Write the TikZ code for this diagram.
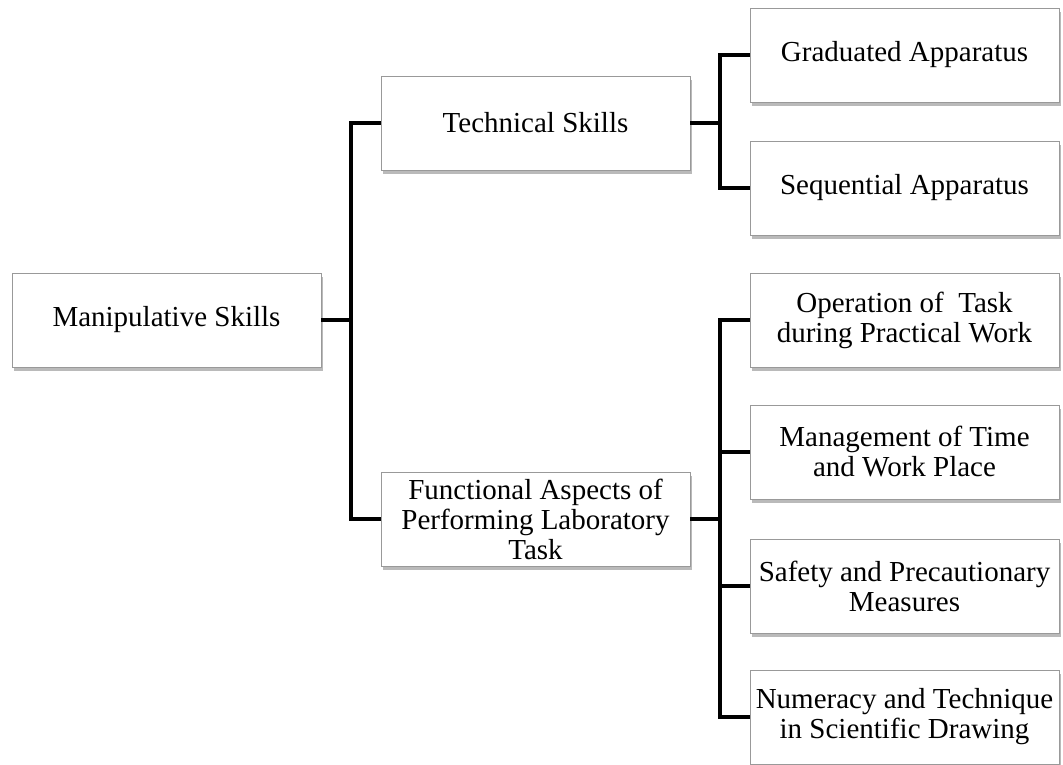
\documentclass[tikz,border=0pt]{standalone}
\usepackage{fontspec}
\setmainfont{Liberation Serif}
\newfontfamily\Schrift{Liberation Serif}
\usepackage{tikz}
\usetikzlibrary{shadows}
\usetikzlibrary{calc}
\tikzset{
  Kasten/.style={draw=black!40, fill=white, minimum width=154.5pt, minimum height=47pt,
    inner sep=2pt, align=center, font=\Schrift\fontsize{14.5}{15}\selectfont,
    drop shadow={shadow xshift=1.2pt, shadow yshift=-1.8pt, fill=black!45, opacity=.6}}, % für Kästen
  Ast/.style={line width=2pt} % für Verbindungen
}

\begin{document}
\begin{tikzpicture}[x=0.5pt, y=-0.5pt]
\useasboundingbox (0,0) rectangle (1063,764);

%Kaesten
\node[Kasten] (MS) at (166.5,320) {Manipulative Skills};
\node[Kasten] (TS) at (535.5,123) {Technical Skills};
\node[Kasten] (FA) at (535.5,519) {Functional Aspects of\\Performing Laboratory\\Task};
\node[Kasten] (GA) at (904.5,55) {Graduated Apparatus};
\node[Kasten] (SA) at (904.5,188) {Sequential Apparatus};
\node[Kasten] (OT) at (904.5,320) {Operation of\ \ Task\\during Practical Work};
\node[Kasten] (MT) at (904.5,452) {Management of Time\\and Work Place};
\node[Kasten] (SP) at (904.5,586) {Safety and Precautionary\\Measures};
\node[Kasten] (NT) at (904.5,717) {Numeracy and Technique\\in Scientific Drawing};

%Knoten
\coordinate (K1) at ($(MS.east)!.5!(TS.west)$);
\coordinate (K2) at ($(TS.east)!.5!(GA.west)$);
\coordinate (K3) at ($(FA.east)!.5!(OT.west)$);

%Leitungen
\draw[Ast] (MS.east) -- (MS.east -| K1);
\draw[Ast] (TS.west) -| (K1) |- (FA.west);

\draw[Ast] (TS.east) -- (TS.east -| K2);
\draw[Ast] (GA.west) -| (K2) |- (SA.west);

\draw[Ast] (FA.east) -- (FA.east -| K3);
\draw[Ast] (OT.west) -| (K3) |- (NT.west);
\draw[Ast] (MT.west) -- (MT.west -| K3);
\draw[Ast] (SP.west) -- (SP.west -| K3);

\end{tikzpicture}
\end{document}
